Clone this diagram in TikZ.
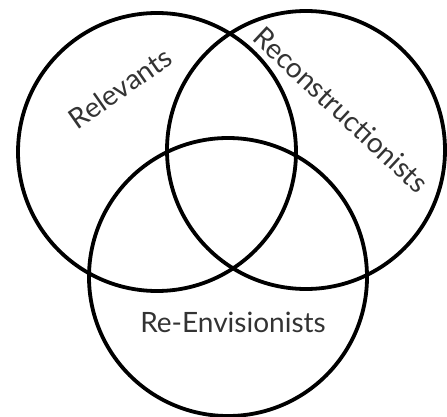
\documentclass[tikz,border=0pt]{standalone}
\usepackage{fontspec}
\setmainfont{Lato}
\tikzset{
    ring/.style={circle, draw, line width=3.8pt, minimum size=278pt, inner sep=0pt},
    setname/.style={font=\fontsize{28}{30}\selectfont, text=black!80, inner sep=0pt}
}
\begin{document}
\begin{tikzpicture}[x=1pt, y=-1pt]
    % 1. Khung
    \useasboundingbox (0,0) rectangle (447,417);

    % 2. Ba vong tron
    \node[ring] (rel) at (157,152) {};
    \node[ring] (rec) at (306,150) {};
    \node[ring] (env) at (228,277) {};

    % 3. Ten cac tap hop
    \node[setname, rotate=35] (relname) at (120,88) {Relevants};
    \node[setname, rotate=-43] (recname) at (341,110) {Reconstructionists};
    \node[setname] (envname) at (233,322) {Re-Envisionists};
\end{tikzpicture}
\end{document}
